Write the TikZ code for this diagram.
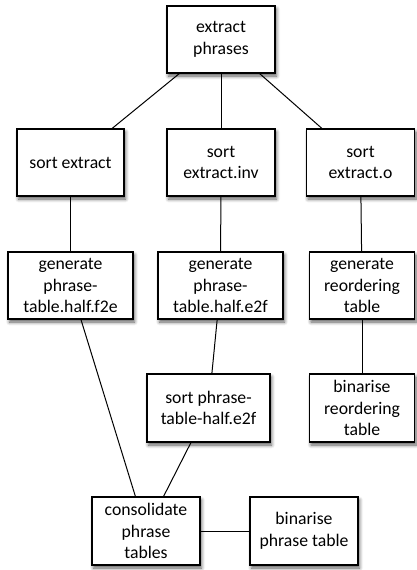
\documentclass[tikz,border=0pt]{standalone}
\usepackage{fontspec}
\setmainfont{Carlito}
\usetikzlibrary{shadows.blur,backgrounds}
\tikzset{
  box/.style={draw=black, line width=1.3pt, fill=white, inner sep=0pt, align=center,
    minimum height=67pt, font=\fontsize{17.7}{21.6}\selectfont,
    blur shadow={shadow xshift=1.5pt, shadow yshift=-3pt, shadow blur steps=6, shadow opacity=65, shadow blur radius=3.5pt}},
  link/.style={draw=black, line width=1pt}
}
\begin{document}
\begin{tikzpicture}[x=1pt,y=-1pt]
\useasboundingbox (0,0) rectangle (416,570);
\node[box, minimum width=108pt] (ep) at (221,39.5) {extract\\phrases};
\node[box, minimum width=107pt] (se) at (70.5,162.5) {sort extract};
\node[box, minimum width=108pt] (sei) at (221,162.5) {sort\\extract.inv};
\node[box, minimum width=108pt] (seo) at (360.5,162.5) {sort\\extract.o};
\node[box, minimum width=125pt] (gf) at (70.5,285.5) {generate\\phrase-\\table.half.f2e};
\node[box, minimum width=125pt] (ge) at (220.5,285.5) {generate\\phrase-\\table.half.e2f};
\node[box, minimum width=105pt] (gr) at (362,285.5) {generate\\reordering\\table};
\node[box, minimum width=123pt, minimum height=68pt] (sp) at (208.5,408) {sort phrase-\\table-half.e2f};
\node[box, minimum width=105pt, minimum height=68pt] (br) at (362,408) {binarise\\reordering\\table};
\node[box, minimum width=108pt, minimum height=68pt] (cp) at (146,531) {consolidate\\phrase\\tables};
\node[box, minimum width=108pt, minimum height=68pt] (bp) at (304,531) {binarise\\phrase table};
\begin{scope}[on background layer]
\draw[link] (ep) -- (se);
\draw[link] (ep) -- (sei);
\draw[link] (ep) -- (seo);
\draw[link] (se) -- (gf);
\draw[link] (sei) -- (ge);
\draw[link] (seo) -- (gr);
\draw[link] (gf) -- (cp);
\draw[link] (ge) -- (sp);
\draw[link] (sp) -- (cp);
\draw[link] (gr) -- (br);
\draw[link] (cp) -- (bp);
\end{scope}
\end{tikzpicture}
\end{document}
